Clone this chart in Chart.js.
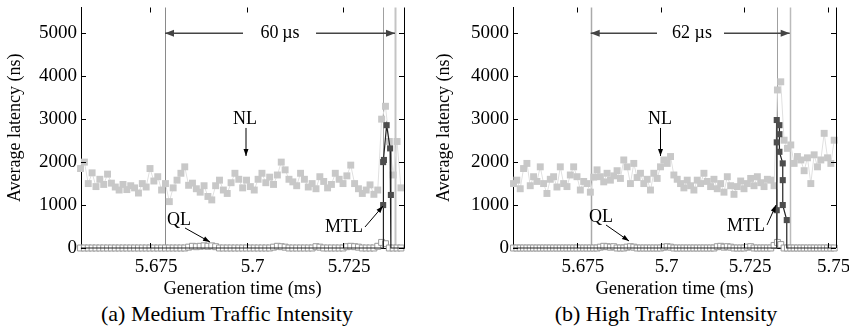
<!DOCTYPE html>
<html>
<head>
<meta charset="utf-8">
<script src="https://cdn.jsdelivr.net/npm/chart.js@4.4.0/dist/chart.umd.min.js"></script>
<style>
  body { margin: 0; background: #fff; width: 849px; height: 331px; overflow: hidden; position: relative; }
  .panel { position: absolute; top: 0; width: 425px; height: 300px; }
  #panelA { left: 0; }
  #panelB { left: 429px; }
  .caption { position: absolute; top: 302px; width: 400px; text-align: center;
             font: 22px "Liberation Serif", "Times New Roman", serif; line-height: 24px; color: #000; }
</style>
</head>
<body>
<div class="panel" id="panelA"><canvas id="chartA"></canvas></div>
<div class="panel" id="panelB"><canvas id="chartB"></canvas></div>
<div class="caption" style="left:27px">(a) Medium Traffic Intensity</div>
<div class="caption" style="left:466px">(b) High Traffic Intensity</div>
<script>
const SERIF = '"Liberation Serif", "Times New Roman", serif';

// samples are one microsecond apart (times in ms)
const stepMs = 0.001;
const yTicks = [0, 1000, 2000, 3000, 4000, 5000];

// (a) medium traffic
const startA = 5.657;
const nlA = [1850, 2000, 1500, 1750, 1430, 1600, 1480, 1720, 1510, 1420,
  1350, 1480, 1360, 1450, 1400, 1280, 1500, 1420, 1850, 1560,
  1660, 1350, 1500, 1080, 1400, 1580, 1740, 1890, 1460, 1510,
  1380, 1300, 1450, 1200, 1120, 1450, 1580, 1350, 1270, 1520,
  1740, 1600, 1400, 1580, 1430, 1350, 1600, 1740, 1520, 1650,
  1480, 1700, 2000, 1820, 1600, 1540, 1450, 1740, 1600, 1420,
  1500, 1380, 1660, 1550, 1400, 1480, 1740, 1600, 1500, 1680,
  1930, 1500, 1380, 1270, 1350, 1470, 1250, 1350, 3000, 3300,
  2480, 1700, 2480, 1400];
const qlA = [0, 0, 0, 0, 0, 0, 0, 0, 0, 0,
  0, 0, 0, 0, 0, 0, 0, 0, 0, 0,
  0, 0, 0, 0, 0, 0, 0, 0, 20, 40,
  30, 40, 50, 40, 50, 30, 0, 0, 0, 0,
  0, 0, 0, 0, 0, 0, 0, 0, 0, 0,
  20, 40, 30, 20, 0, 0, 0, 0, 0, 0,
  0, 30, 20, 0, 0, 0, 0, 0, 0, 30,
  40, 30, 20, 0, 0, 0, 0, 40, 130, 100,
  0, 0, 0, 0];
const mtlTimeA = [5.6571, 5.7354, 5.7354, 5.7354, 5.7356, 5.7363, 5.7372, 5.7374, 5.7374, 5.7408];
const mtlA = [0, 0, 1000, 2000, 2050, 2860, 2320, 1235, 0, 0];
const xTicksA = [5.675, 5.7, 5.725];
const markersA = [5.67889, 5.73536, 5.73847];

// (b) high traffic
const startB = 5.656;
const nlB = [1500, 1580, 1380, 1850, 1970, 1450, 1660, 1550, 1890, 1500,
  1270, 1600, 1660, 1420, 1890, 1500, 1430, 1700, 1890, 1660,
  1350, 1550, 1500, 1300, 1650, 1820, 1660, 1540, 1740, 1580,
  1680, 1800, 1620, 2050, 1890, 1500, 1970, 1640, 1740, 1500,
  1600, 1350, 1740, 1620, 1890, 2050, 1970, 2130, 1700, 1600,
  1500, 1400, 1580, 1450, 1350, 1580, 1500, 1740, 1550, 1430,
  1600, 1380, 1500, 1300, 1660, 1450, 1250, 1430, 1560, 1380,
  1500, 1620, 1450, 1660, 1520, 1430, 1600, 1580, 1450, 3680,
  3870, 2510, 2320, 2400, 1970, 2130, 2050, 1800, 2100, 1500,
  2170, 1890, 2050, 2670, 2100, 1970, 2510];
const qlB = [0, 0, 0, 0, 0, 0, 0, 0, 0, 0,
  0, 0, 0, 0, 0, 0, 0, 0, 0, 0,
  0, 0, 0, 0, 0, 0, 20, 40, 30, 20,
  30, 0, 0, 0, 20, 30, 20, 0, 0, 0,
  0, 0, 0, 0, 0, 20, 30, 20, 0, 0,
  0, 0, 0, 0, 0, 0, 0, 0, 0, 0,
  0, 30, 40, 20, 30, 20, 0, 0, 0, 0,
  20, 30, 0, 0, 0, 0, 0, 0, 60, 130,
  80, 0, 0, 0, 0, 0, 0, 0, 0, 0,
  0, 0, 0, 0, 0, 0, 0];
const mtlTimeB = [5.6559, 5.7348, 5.7348, 5.7348, 5.7348, 5.7356, 5.7356, 5.7356,
  5.7366, 5.7366, 5.7366, 5.7378, 5.7378, 5.7525];
const mtlB = [0, 0, 880, 2460, 2980, 2860, 2650, 2240, 1970, 1580, 1000, 650, 0, 0];
const xTicksB = [5.675, 5.7, 5.725, 5.75];
const markersB = [5.6791, 5.73479, 5.73868];

function series(start, vals) {
  return vals.map((v, i) => ({ x: +(start + i * stepMs).toFixed(4), y: v }));
}

function arrow(ctx, x1, y1, x2, y2, len, half) {
  ctx.beginPath(); ctx.moveTo(x1, y1); ctx.lineTo(x2, y2); ctx.stroke();
  const a = Math.atan2(y2 - y1, x2 - x1);
  const bx = x2 - len * Math.cos(a), by = y2 - len * Math.sin(a);
  ctx.beginPath();
  ctx.moveTo(x2, y2);
  ctx.lineTo(bx + half * Math.sin(a), by - half * Math.cos(a));
  ctx.lineTo(bx - half * Math.sin(a), by + half * Math.cos(a));
  ctx.closePath(); ctx.fill();
}

const decor = {
  id: "decor",
  beforeDatasetsDraw(chart, args, o) {
    const ctx = chart.ctx, xs = chart.scales.x, { top, bottom } = chart.chartArea;
    ctx.save();
    o.markers.forEach((t, i) => {
      const px = Math.round(xs.getPixelForValue(t)) + 0.5;
      ctx.strokeStyle = o.markerColors[i];
      ctx.lineWidth = o.markerWidths[i];
      ctx.beginPath(); ctx.moveTo(px, top); ctx.lineTo(px, bottom); ctx.stroke();
    });
    ctx.restore();
  },
  afterDraw(chart, args, o) {
    const ctx = chart.ctx, xs = chart.scales.x, ys = chart.scales.y;
    const { left, right, top, bottom } = chart.chartArea;
    ctx.save();
    // inward tick marks and right border
    ctx.strokeStyle = "#000"; ctx.lineWidth = 1;
    ctx.beginPath();
    xs.ticks.forEach(t => {
      const px = Math.round(xs.getPixelForValue(t.value)) + 0.5;
      ctx.moveTo(px, bottom); ctx.lineTo(px, bottom - 5);
      ctx.moveTo(px, top); ctx.lineTo(px, top + 5);
    });
    ys.ticks.forEach(t => {
      const py = Math.round(ys.getPixelForValue(t.value)) + 0.5;
      ctx.moveTo(left, py); ctx.lineTo(left + 5, py);
      ctx.moveTo(right, py); ctx.lineTo(right - 5, py);
    });
    ctx.moveTo(Math.round(right) + 0.5, top); ctx.lineTo(Math.round(right) + 0.5, bottom);
    ctx.stroke();

    // span arrow with label
    const s = o.span, sy = ys.getPixelForValue(s.y);
    ctx.strokeStyle = "#444"; ctx.fillStyle = "#444"; ctx.lineWidth = 1.6;
    arrow(ctx, xs.getPixelForValue(s.gap[0]), sy, xs.getPixelForValue(s.from), sy, 9, 3.5);
    arrow(ctx, xs.getPixelForValue(s.gap[1]), sy, xs.getPixelForValue(s.to), sy, 9, 3.5);
    ctx.font = "18px " + SERIF;
    ctx.fillStyle = "#000";
    ctx.textAlign = "center"; ctx.textBaseline = "middle";
    ctx.fillText(s.text, xs.getPixelForValue(s.textX), sy);

    // series labels with pointer arrows
    ctx.strokeStyle = "#000"; ctx.lineWidth = 1;
    o.labels.forEach(l => {
      ctx.fillStyle = "#000";
      ctx.fillText(l.text, xs.getPixelForValue(l.x), ys.getPixelForValue(l.y));
      arrow(ctx, xs.getPixelForValue(l.a[0]), ys.getPixelForValue(l.a[1]),
        xs.getPixelForValue(l.a[2]), ys.getPixelForValue(l.a[3]), 7, 2.5);
    });
    ctx.restore();
  }
};

function makeChart(id, start, nl, ql, mtlT, mtl, xMin, xMax, xTicks, yWidth, padRight, deco) {
  const mtlData = mtlT.map((t, i) => ({ x: t, y: mtl[i] }));
  return new Chart(document.getElementById(id), {
    type: "line",
    data: {
      datasets: [
        { label: "MTL", data: mtlData, order: 0, clip: false,
          borderColor: "#222", borderWidth: 1.2, backgroundColor: "#4d4d4d",
          pointStyle: "rect", pointBorderWidth: 0,
          pointRadius: c => (c.raw && c.raw.y === 0 ? 0 : 4.3) },
        { label: "QL", data: series(start, ql), order: 1, clip: false,
          borderColor: "#9a9a9a", borderWidth: 1, backgroundColor: "#fff",
          pointStyle: "rect", pointRadius: 4.2, pointBorderWidth: 1, pointBorderColor: "#9a9a9a" },
        { label: "NL", data: series(start, nl), order: 2, clip: false,
          borderColor: "#e0e0e0", borderWidth: 1, backgroundColor: "#c8c8c8",
          pointStyle: "rect", pointRadius: 4.9, pointBorderWidth: 0 }
      ]
    },
    options: {
      responsive: true,
      maintainAspectRatio: false,
      animation: false,
      layout: { padding: { left: 0, right: padRight, top: 7.5, bottom: 0 } },
      plugins: { legend: { display: false }, tooltip: { enabled: false }, decor: deco },
      scales: {
        x: {
          type: "linear", min: xMin, max: xMax,
          afterBuildTicks: sc => { sc.ticks = xTicks.map(v => ({ value: v })); },
          afterFit: sc => { sc.height = 52; sc.paddingLeft = 0; sc.paddingRight = 0; },
          ticks: { font: { family: SERIF, size: 19 }, color: "#000", labelOffset: 6, padding: 8,
                   maxRotation: 0, autoSkip: false, callback: v => String(v) },
          grid: { display: false, drawTicks: false },
          border: { display: true, color: "#000", width: 1 },
          title: { display: true, text: "Generation time (ms)", color: "#000",
                   font: { family: SERIF, size: 18.5 }, padding: { top: 4, bottom: 0 } }
        },
        y: {
          type: "linear", min: 0, max: 5600,
          afterBuildTicks: sc => { sc.ticks = yTicks.map(v => ({ value: v })); },
          afterFit: sc => { sc.width = yWidth; sc.paddingTop = 0; sc.paddingBottom = 0; },
          ticks: { font: { family: SERIF, size: 19 }, color: "#000", padding: 4,
                   callback: v => String(v) },
          grid: { display: false, drawTicks: false },
          border: { display: true, color: "#000", width: 1 },
          title: { display: true, text: "Average latency (ns)", color: "#000",
                   font: { family: SERIF, size: 18 }, padding: { top: 4, bottom: 0 } }
        }
      }
    },
    plugins: [decor]
  });
}

makeChart("chartA", startA, nlA, qlA, mtlTimeA, mtlA, 5.65712, 5.7408, xTicksA, 81, 21, {
  markers: markersA,
  markerColors: ["#8a8a8a", "#a0a0a0", "#c4c4c4"],
  markerWidths: [1, 1, 2],
  span: { y: 5000, from: markersA[0], to: markersA[2], gap: [5.69909, 5.71801], text: "60\u2009\u00b5s", textX: 5.70868 },
  labels: [
    { text: "NL", x: 5.69961, y: 3004, a: [5.69987, 2795, 5.69987, 2142] },
    { text: "QL", x: 5.68251, y: 652, a: [5.68407, 466, 5.69054, 140] },
    { text: "MTL", x: 5.72526, y: 489, a: [5.7307, 489, 5.73536, 978] }
  ]
});

makeChart("chartB", startB, nlB, qlB, mtlTimeB, mtlB, 5.65584, 5.75254, xTicksB, 84, 18, {
  markers: markersB,
  markerColors: ["#aaaaaa", "#a0a0a0", "#bbbbbb"],
  markerWidths: [1.5, 1, 1.5],
  span: { y: 5000, from: markersB[0], to: markersB[2], gap: [5.69895, 5.71901], text: "62 \u00b5s", textX: 5.70943 },
  labels: [
    { text: "NL", x: 5.69985, y: 3004, a: [5.7, 2795, 5.7, 2142] },
    { text: "QL", x: 5.68219, y: 722, a: [5.68368, 536, 5.69057, 163] },
    { text: "MTL", x: 5.7256, y: 512, a: [5.73189, 536, 5.73458, 1000] }
  ]
});
</script>
</body>
</html>
